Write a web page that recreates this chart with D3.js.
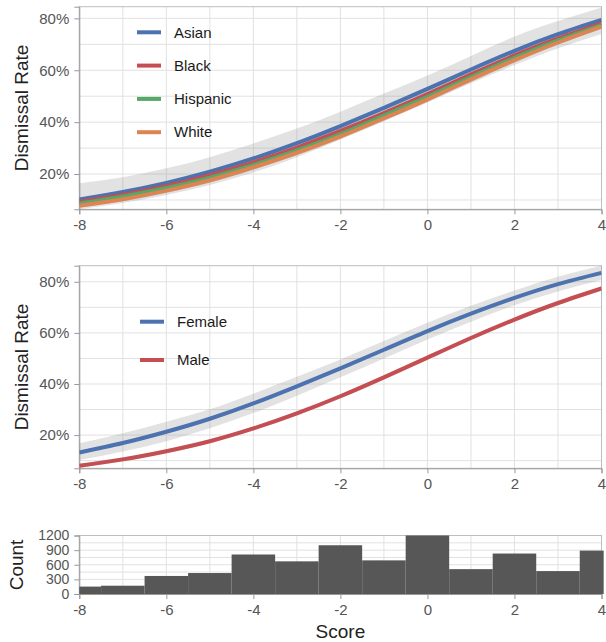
<!DOCTYPE html>
<html><head><meta charset="utf-8">
<script src="https://cdn.jsdelivr.net/npm/d3@7"></script>
<style>
body{margin:0;background:#fff}
svg{display:block;font-family:"Liberation Sans",Arial,Helvetica,sans-serif}
</style>
</head><body>
<svg id="chart" width="606" height="642"></svg>
<script>
// ---------- data ----------
const scores = [-8,-7,-6,-5,-4,-3,-2,-1,0,1,2,3,4];

const raceNames = ["Asian","Black","Hispanic","White"];
const asianMean = [10.2,13.1,16.6,20.9,26.0,31.9,38.5,45.5,52.8,60.3,67.5,73.9,79.4];
const asianLo   = [6.4,8.8,11.9,15.8,20.6,26.5,33.3,40.3,47.6,55.0,62.0,68.5,74.0];
const asianHi   = [16.4,18.8,22.2,26.5,31.8,37.5,44.0,51.0,58.0,65.5,73.0,79.0,84.2];
const blackMean = [9.3,12.0,15.4,19.6,24.5,30.2,36.6,43.5,50.8,58.4,65.7,72.3,78.1];
const blackLo   = [8.3,10.8,14.0,18.1,23.0,28.6,35.0,41.9,49.2,56.8,64.1,70.8,76.6];
const blackHi   = [10.4,13.3,16.9,21.2,26.1,31.8,38.2,45.1,52.4,60.0,67.3,73.8,79.6];
const hispMean  = [8.6,11.3,14.6,18.6,23.5,29.1,35.4,42.5,49.8,57.4,64.8,71.5,77.4];
const hispLo    = [7.6,10.1,13.3,17.2,22.1,27.7,34.0,41.1,48.4,56.0,63.4,70.1,76.0];
const hispHi    = [9.6,12.5,15.9,20.0,24.9,30.5,36.8,43.9,51.2,58.8,66.2,72.9,78.8];
const whiteMean = [7.8,10.3,13.6,17.6,22.6,28.2,34.5,41.5,48.8,56.5,63.9,70.7,76.8];
const whiteLo   = [7.0,9.5,12.7,16.6,21.6,27.2,33.5,40.5,47.8,55.5,62.9,69.8,75.9];
const whiteHi   = [8.6,11.1,14.5,18.6,23.6,29.2,35.5,42.5,49.8,57.5,64.9,71.6,77.7];

const sexNames = ["Female","Male"];
const femaleMean = [13.2,16.9,21.3,26.4,32.4,39.1,46.1,53.4,60.7,67.5,73.7,79.1,83.5];
const femaleLo   = [10.2,13.6,17.6,22.7,28.6,35.4,42.6,50.0,57.4,64.4,70.8,76.2,80.7];
const femaleHi   = [16.8,20.7,25.2,30.1,36.2,42.8,49.6,56.8,64.0,70.6,76.6,82.0,86.3];
const maleMean   = [8.0,10.5,13.7,17.6,22.6,28.5,35.2,42.6,50.3,58.0,65.2,71.7,77.4];
const maleLo     = [7.2,9.7,12.9,16.8,21.8,27.7,34.4,41.8,49.5,57.2,64.4,70.9,76.6];
const maleHi     = [8.8,11.3,14.5,18.4,23.4,29.3,36.0,43.4,51.1,58.8,66.0,72.5,78.2];

const histCenters = [-8,-7,-6,-5,-4,-3,-2,-1,0,1,2,3,4];
const histCounts  = [150,170,370,430,810,670,1000,690,1200,510,830,470,890];

const xTicks = [-8,-6,-4,-2,0,2,4];
const xGrid = [-8,-7,-6,-5,-4,-3,-2,-1,0,1,2,3,4];
const rateTicks = [20,40,60,80];
const rateGrid = [10,20,30,40,50,60,70,80];
const countTicks = [0,300,600,900,1200];
const countGrid = [0,150,300,450,600,750,900,1050,1200];

const colors = ["#4C72B0","#C44E52","#55A868","#DD8452"];

// ---------- layout ----------
const svg = d3.select("#chart");
const X0 = 79.3, X1 = 601.5;
const x = d3.scaleLinear().domain([-8,4]).range([X0,X1]);
const gridColor = "#e1e1e1";
const tickTextColor = "#555";

function drawFrame(yScale, top, bottom, yTicks, yGrid, yFmt, yFont) {
  const g = svg.append("g");
  g.selectAll(".vg").data(xGrid).join("line")
    .attr("x1", d => x(d)).attr("x2", d => x(d))
    .attr("y1", top).attr("y2", bottom)
    .attr("stroke", gridColor).attr("stroke-width", 1);
  g.selectAll(".hg").data(yGrid).join("line")
    .attr("x1", X0).attr("x2", X1)
    .attr("y1", d => yScale(d)).attr("y2", d => yScale(d))
    .attr("stroke", gridColor).attr("stroke-width", 1);
  g.append("rect").attr("x", X0).attr("y", top)
    .attr("width", X1 - X0).attr("height", bottom - top)
    .attr("fill", "none").attr("stroke", "#bdbdbd");
  const ax = svg.append("g").attr("transform", `translate(0,${bottom})`)
    .call(d3.axisBottom(x).tickValues(xTicks).tickSize(5).tickPadding(5).tickFormat(d => String(d)));
  ax.select(".domain").attr("stroke", "#999");
  ax.selectAll(".tick line").attr("stroke", "#999");
  ax.selectAll("text").attr("fill", tickTextColor).style("font-size", "15px")
    .style("font-family", '"Liberation Sans",Arial,sans-serif');
  const ay = svg.append("g").attr("transform", `translate(${X0},0)`)
    .call(d3.axisLeft(yScale).tickValues(yTicks).tickSize(5).tickPadding(5).tickFormat(yFmt));
  ay.select(".domain").attr("stroke", "#999");
  ay.selectAll(".tick line").attr("stroke", "#999");
  ay.selectAll("text").attr("fill", tickTextColor).style("font-size", yFont)
    .style("font-family", '"Liberation Sans",Arial,sans-serif');
}

function yTitle(text, cx, cy) {
  svg.append("text").attr("transform", `translate(${cx},${cy}) rotate(-90)`)
    .attr("text-anchor", "middle").attr("dy", "0.35em")
    .attr("fill", "#222").style("font-size", "19px").text(text);
}

function ratePanel(top, bottom, domain, names, means, los, his, legX, legY0, legDy) {
  const y = d3.scaleLinear().domain(domain).range([bottom, top]);
  drawFrame(y, top, bottom, rateTicks, rateGrid, d => d + "%", "15px");
  const clipId = "clip" + Math.round(top);
  svg.append("clipPath").attr("id", clipId).append("rect")
    .attr("x", X0).attr("y", top).attr("width", X1 - X0).attr("height", bottom - top);
  const g = svg.append("g").attr("clip-path", `url(#${clipId})`);
  const area = d3.area().x((d, i) => x(scores[i]))
    .y0(d => y(d[0])).y1(d => y(d[1])).curve(d3.curveNatural);
  const line = d3.line().x((d, i) => x(scores[i])).y(d => y(d)).curve(d3.curveNatural);
  names.forEach((n, k) => {
    const band = los[k].map((v, i) => [v, his[k][i]]);
    g.append("path").attr("d", area(band)).attr("fill", "#8a8a8a").attr("fill-opacity", 0.25);
  });
  names.forEach((n, k) => {
    g.append("path").attr("d", line(means[k])).attr("fill", "none")
      .attr("stroke", colors[k]).attr("stroke-width", 4);
  });
  const lg = svg.append("g");
  names.forEach((n, k) => {
    const yy = legY0 + k * legDy;
    lg.append("line").attr("x1", legX).attr("x2", legX + 24)
      .attr("y1", yy).attr("y2", yy).attr("stroke", colors[k]).attr("stroke-width", 4);
    lg.append("text").attr("x", legX + 37).attr("y", yy).attr("dy", "0.35em")
      .attr("fill", "#1a1a1a").style("font-size", "15px").text(n);
  });
  return y;
}

ratePanel(6.7, 209.3, [6.4, 84.5], raceNames,
  [asianMean, blackMean, hispMean, whiteMean],
  [asianLo, blackLo, hispLo, whiteLo],
  [asianHi, blackHi, hispHi, whiteHi],
  137, 32.3, 33.3);
yTitle("Dismissal Rate", 21, 108);

ratePanel(265.7, 468.3, [7.0, 86.3], sexNames,
  [femaleMean, maleMean], [femaleLo, maleLo], [femaleHi, maleHi],
  140, 321.7, 38.3);
yTitle("Dismissal Rate", 21, 367);

const hTop = 535.5, hBottom = 594;
const yh = d3.scaleLinear().domain([0, 1200]).range([hBottom, hTop]);
drawFrame(yh, hTop, hBottom, countTicks, countGrid, d3.format("d"), "14px");
svg.append("g").selectAll("rect").data(histCenters).join("rect")
  .attr("x", d => x(Math.max(d - 0.5, -8)))
  .attr("width", d => x(Math.min(d + 0.5, 4.05)) - x(Math.max(d - 0.5, -8)))
  .attr("y", (d, i) => yh(histCounts[i]))
  .attr("height", (d, i) => hBottom - yh(histCounts[i]))
  .attr("fill", "#575757");
yTitle("Count", 16, 565);
svg.append("text").attr("x", (X0 + X1) / 2).attr("y", 638)
  .attr("text-anchor", "middle").attr("fill", "#222").style("font-size", "19px").text("Score");
</script>
</body></html>
